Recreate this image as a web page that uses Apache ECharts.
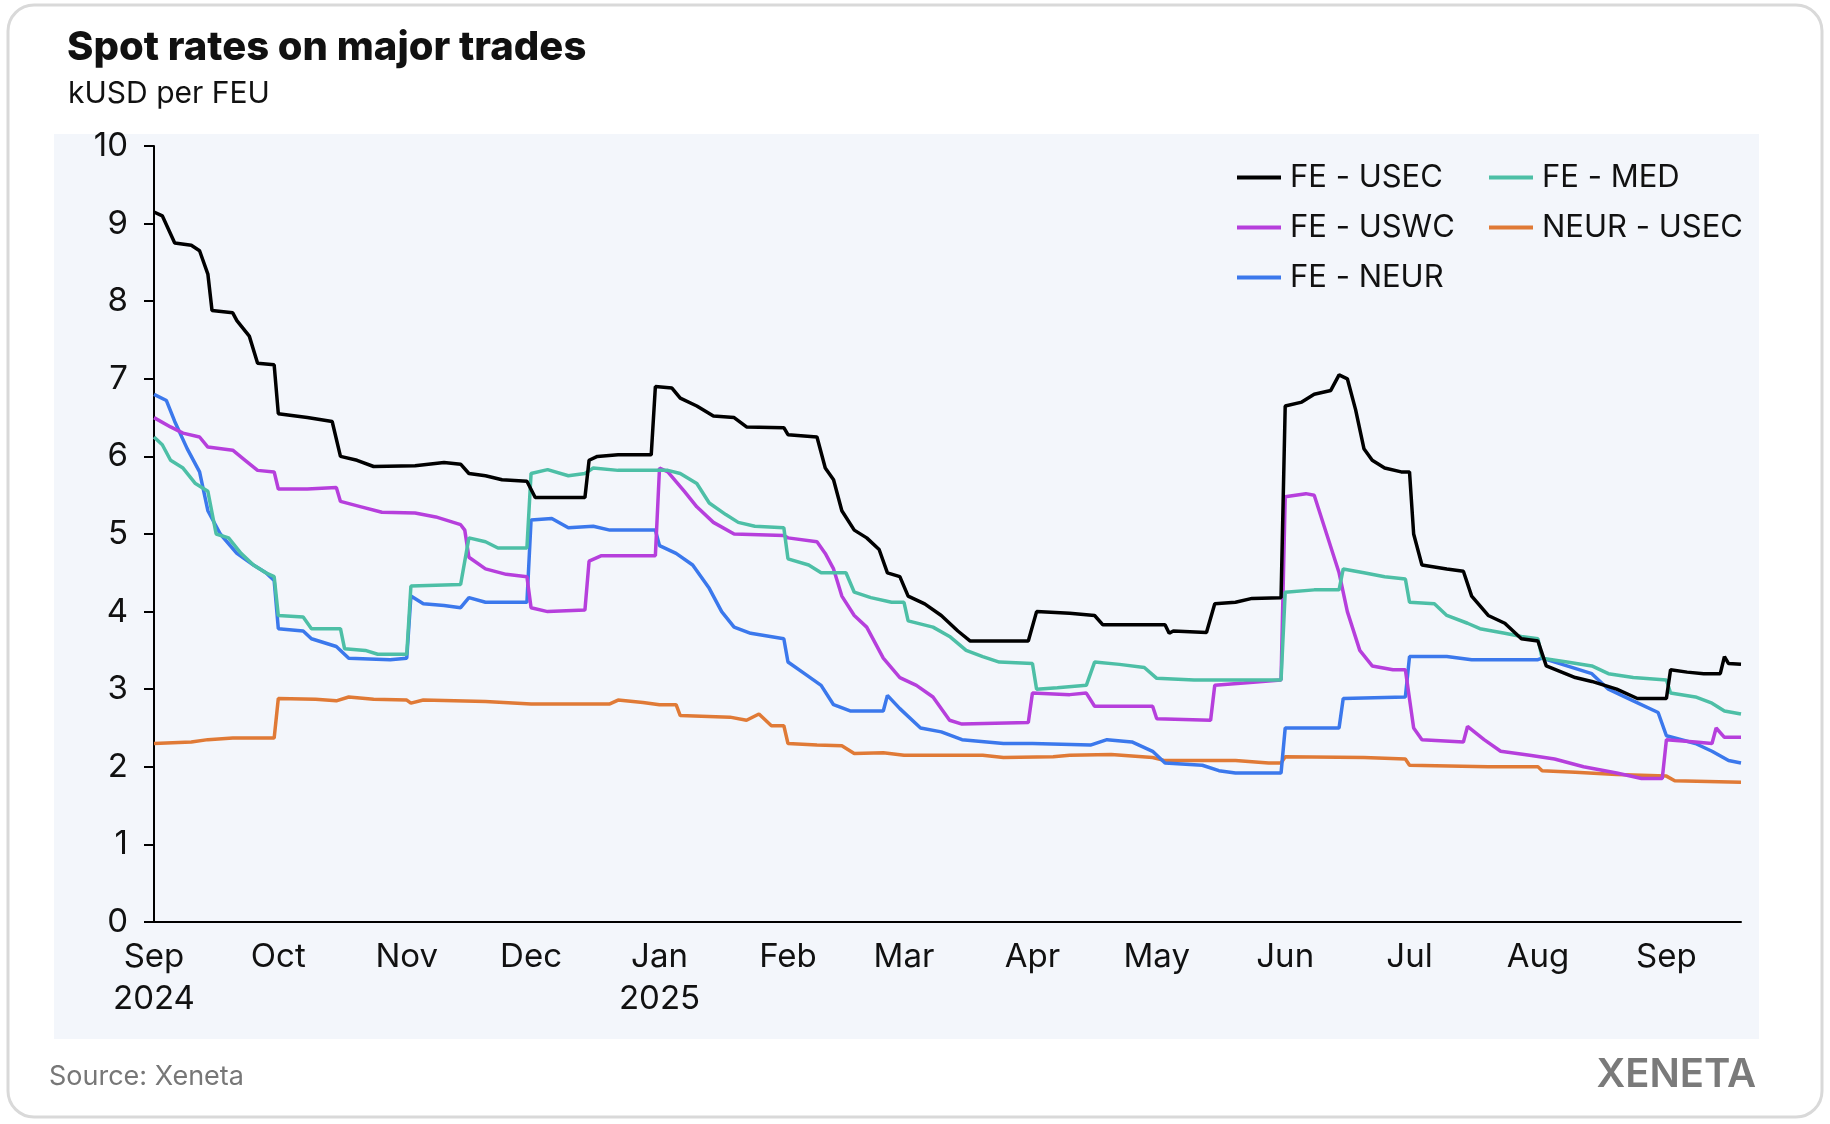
<!DOCTYPE html>
<html>
<head>
<meta charset="utf-8">
<script src="https://cdn.jsdelivr.net/npm/echarts@6/dist/echarts.min.js"></script>
<style>
  html, body { margin:0; padding:0; background:#fff; }
  #chart { width:1830px; height:1124px; }
</style>
</head>
<body>
<div id="chart"></div>
<script>
// values in kUSD per FEU
const feUsec = [['2024-09-01',9.15],['2024-09-03',9.1],['2024-09-06',8.75],['2024-09-10',8.72],['2024-09-12',8.65],['2024-09-14',8.35],['2024-09-15',7.88],['2024-09-20',7.85],['2024-09-21',7.75],['2024-09-24',7.55],['2024-09-26',7.2],['2024-09-30',7.18],['2024-10-01',6.55],['2024-10-08',6.5],['2024-10-14',6.45],['2024-10-16',6.0],['2024-10-20',5.95],['2024-10-24',5.87],['2024-11-03',5.88],['2024-11-10',5.92],['2024-11-14',5.9],['2024-11-16',5.78],['2024-11-20',5.75],['2024-11-24',5.7],['2024-11-30',5.68],['2024-12-02',5.47],['2024-12-14',5.47],['2024-12-15',5.95],['2024-12-17',6.0],['2024-12-22',6.02],['2024-12-30',6.02],['2024-12-31',6.9],['2025-01-04',6.88],['2025-01-06',6.75],['2025-01-10',6.65],['2025-01-14',6.52],['2025-01-19',6.5],['2025-01-22',6.38],['2025-01-31',6.37],['2025-02-01',6.28],['2025-02-08',6.25],['2025-02-10',5.85],['2025-02-12',5.7],['2025-02-14',5.3],['2025-02-17',5.05],['2025-02-20',4.95],['2025-02-23',4.8],['2025-02-25',4.5],['2025-02-28',4.45],['2025-03-02',4.2],['2025-03-06',4.1],['2025-03-10',3.95],['2025-03-14',3.75],['2025-03-17',3.62],['2025-03-31',3.62],['2025-04-02',4.0],['2025-04-10',3.98],['2025-04-16',3.95],['2025-04-18',3.83],['2025-05-03',3.83],['2025-05-04',3.72],['2025-05-05',3.75],['2025-05-13',3.73],['2025-05-15',4.1],['2025-05-20',4.12],['2025-05-24',4.17],['2025-05-31',4.18],['2025-06-01',6.65],['2025-06-05',6.7],['2025-06-08',6.8],['2025-06-12',6.85],['2025-06-14',7.05],['2025-06-16',7.0],['2025-06-18',6.6],['2025-06-20',6.1],['2025-06-22',5.95],['2025-06-25',5.85],['2025-06-29',5.8],['2025-07-01',5.8],['2025-07-02',5.0],['2025-07-04',4.6],['2025-07-10',4.55],['2025-07-14',4.52],['2025-07-16',4.2],['2025-07-20',3.95],['2025-07-24',3.85],['2025-07-28',3.65],['2025-08-01',3.62],['2025-08-03',3.3],['2025-08-10',3.15],['2025-08-14',3.1],['2025-08-20',3.0],['2025-08-25',2.88],['2025-09-01',2.88],['2025-09-02',3.25],['2025-09-06',3.22],['2025-09-10',3.2],['2025-09-14',3.2],['2025-09-15',3.42],['2025-09-16',3.33],['2025-09-19',3.32]];

const feMed = [['2024-09-01',6.25],['2024-09-03',6.15],['2024-09-05',5.95],['2024-09-08',5.85],['2024-09-11',5.65],['2024-09-14',5.55],['2024-09-16',5.0],['2024-09-19',4.95],['2024-09-22',4.75],['2024-09-25',4.6],['2024-09-28',4.5],['2024-09-30',4.45],['2024-10-01',3.95],['2024-10-07',3.93],['2024-10-09',3.78],['2024-10-16',3.78],['2024-10-17',3.52],['2024-10-22',3.5],['2024-10-25',3.45],['2024-11-01',3.45],['2024-11-02',4.33],['2024-11-14',4.35],['2024-11-16',4.95],['2024-11-20',4.9],['2024-11-23',4.82],['2024-11-30',4.82],['2024-12-01',5.78],['2024-12-05',5.83],['2024-12-10',5.75],['2024-12-14',5.78],['2024-12-16',5.85],['2024-12-22',5.82],['2025-01-03',5.82],['2025-01-06',5.78],['2025-01-10',5.65],['2025-01-13',5.4],['2025-01-17',5.25],['2025-01-20',5.15],['2025-01-24',5.1],['2025-01-31',5.08],['2025-02-01',4.68],['2025-02-06',4.6],['2025-02-09',4.5],['2025-02-15',4.5],['2025-02-17',4.25],['2025-02-21',4.18],['2025-02-26',4.12],['2025-03-01',4.12],['2025-03-02',3.88],['2025-03-08',3.8],['2025-03-12',3.68],['2025-03-16',3.5],['2025-03-20',3.42],['2025-03-24',3.35],['2025-04-01',3.33],['2025-04-02',3.0],['2025-04-07',3.02],['2025-04-14',3.05],['2025-04-16',3.35],['2025-04-22',3.32],['2025-04-28',3.28],['2025-05-01',3.14],['2025-05-10',3.12],['2025-05-20',3.12],['2025-05-31',3.12],['2025-06-01',4.25],['2025-06-08',4.28],['2025-06-14',4.28],['2025-06-15',4.55],['2025-06-20',4.5],['2025-06-25',4.45],['2025-06-30',4.42],['2025-07-01',4.12],['2025-07-07',4.1],['2025-07-10',3.95],['2025-07-15',3.85],['2025-07-18',3.78],['2025-07-24',3.72],['2025-07-28',3.68],['2025-08-01',3.65],['2025-08-02',3.4],['2025-08-08',3.35],['2025-08-14',3.3],['2025-08-18',3.2],['2025-08-24',3.15],['2025-09-01',3.12],['2025-09-02',2.95],['2025-09-08',2.9],['2025-09-12',2.82],['2025-09-15',2.72],['2025-09-19',2.68]];

const feUswc = [['2024-09-01',6.5],['2024-09-05',6.38],['2024-09-08',6.3],['2024-09-12',6.25],['2024-09-14',6.12],['2024-09-20',6.08],['2024-09-23',5.95],['2024-09-26',5.82],['2024-09-30',5.8],['2024-10-01',5.58],['2024-10-08',5.58],['2024-10-15',5.6],['2024-10-16',5.42],['2024-10-21',5.35],['2024-10-26',5.28],['2024-11-03',5.27],['2024-11-08',5.22],['2024-11-14',5.12],['2024-11-15',5.05],['2024-11-16',4.7],['2024-11-20',4.55],['2024-11-25',4.48],['2024-11-30',4.45],['2024-12-01',4.05],['2024-12-05',4.0],['2024-12-14',4.02],['2024-12-15',4.65],['2024-12-18',4.72],['2024-12-31',4.72],['2025-01-01',5.85],['2025-01-03',5.8],['2025-01-07',5.55],['2025-01-10',5.35],['2025-01-14',5.15],['2025-01-19',5.0],['2025-01-31',4.98],['2025-02-01',4.95],['2025-02-08',4.9],['2025-02-10',4.75],['2025-02-12',4.55],['2025-02-14',4.2],['2025-02-17',3.95],['2025-02-20',3.8],['2025-02-24',3.4],['2025-02-28',3.15],['2025-03-04',3.05],['2025-03-08',2.9],['2025-03-12',2.6],['2025-03-15',2.55],['2025-03-31',2.57],['2025-04-01',2.95],['2025-04-10',2.93],['2025-04-14',2.95],['2025-04-16',2.78],['2025-04-30',2.78],['2025-05-01',2.62],['2025-05-14',2.6],['2025-05-15',3.05],['2025-05-22',3.08],['2025-05-31',3.12],['2025-06-01',5.48],['2025-06-06',5.52],['2025-06-08',5.5],['2025-06-11',5.0],['2025-06-14',4.5],['2025-06-16',4.0],['2025-06-19',3.5],['2025-06-22',3.3],['2025-06-27',3.25],['2025-06-30',3.25],['2025-07-02',2.5],['2025-07-04',2.35],['2025-07-14',2.32],['2025-07-15',2.52],['2025-07-19',2.35],['2025-07-23',2.2],['2025-07-30',2.15],['2025-08-05',2.1],['2025-08-12',2.0],['2025-08-20',1.92],['2025-08-26',1.85],['2025-08-31',1.85],['2025-09-01',2.35],['2025-09-08',2.32],['2025-09-12',2.3],['2025-09-13',2.5],['2025-09-15',2.38],['2025-09-19',2.38]];

const feNeur = [['2024-09-01',6.8],['2024-09-04',6.72],['2024-09-06',6.45],['2024-09-09',6.1],['2024-09-12',5.8],['2024-09-14',5.3],['2024-09-17',5.0],['2024-09-21',4.75],['2024-09-25',4.6],['2024-09-28',4.5],['2024-09-30',4.4],['2024-10-01',3.78],['2024-10-07',3.75],['2024-10-09',3.65],['2024-10-15',3.55],['2024-10-18',3.4],['2024-10-28',3.38],['2024-11-01',3.4],['2024-11-02',4.2],['2024-11-05',4.1],['2024-11-10',4.08],['2024-11-14',4.05],['2024-11-16',4.18],['2024-11-20',4.12],['2024-11-30',4.12],['2024-12-01',5.18],['2024-12-06',5.2],['2024-12-10',5.08],['2024-12-16',5.1],['2024-12-20',5.05],['2024-12-31',5.05],['2025-01-01',4.85],['2025-01-05',4.75],['2025-01-09',4.6],['2025-01-13',4.3],['2025-01-16',4.0],['2025-01-19',3.8],['2025-01-23',3.72],['2025-01-31',3.65],['2025-02-01',3.35],['2025-02-05',3.2],['2025-02-09',3.05],['2025-02-12',2.8],['2025-02-16',2.72],['2025-02-24',2.72],['2025-02-25',2.92],['2025-02-28',2.75],['2025-03-05',2.5],['2025-03-10',2.45],['2025-03-15',2.35],['2025-03-25',2.3],['2025-04-01',2.3],['2025-04-15',2.28],['2025-04-19',2.35],['2025-04-25',2.32],['2025-04-30',2.2],['2025-05-03',2.05],['2025-05-12',2.02],['2025-05-16',1.95],['2025-05-20',1.92],['2025-05-31',1.92],['2025-06-01',2.5],['2025-06-14',2.5],['2025-06-15',2.88],['2025-06-30',2.9],['2025-07-01',3.42],['2025-07-10',3.42],['2025-07-16',3.38],['2025-08-01',3.38],['2025-08-02',3.4],['2025-08-08',3.3],['2025-08-14',3.2],['2025-08-18',3.0],['2025-08-24',2.85],['2025-08-30',2.7],['2025-09-01',2.4],['2025-09-08',2.3],['2025-09-12',2.2],['2025-09-16',2.08],['2025-09-19',2.05]];

const neurUsec = [['2024-09-01',2.3],['2024-09-10',2.32],['2024-09-14',2.35],['2024-09-20',2.37],['2024-09-30',2.37],['2024-10-01',2.88],['2024-10-10',2.87],['2024-10-15',2.85],['2024-10-18',2.9],['2024-10-24',2.87],['2024-11-01',2.86],['2024-11-02',2.82],['2024-11-05',2.86],['2024-11-20',2.84],['2024-12-01',2.81],['2024-12-20',2.81],['2024-12-22',2.86],['2024-12-28',2.83],['2025-01-01',2.8],['2025-01-05',2.8],['2025-01-06',2.66],['2025-01-18',2.64],['2025-01-22',2.6],['2025-01-25',2.68],['2025-01-28',2.53],['2025-01-31',2.53],['2025-02-01',2.3],['2025-02-08',2.28],['2025-02-14',2.27],['2025-02-17',2.17],['2025-02-24',2.18],['2025-03-01',2.15],['2025-03-20',2.15],['2025-03-25',2.12],['2025-04-06',2.13],['2025-04-10',2.15],['2025-04-20',2.16],['2025-04-30',2.12],['2025-05-03',2.08],['2025-05-20',2.08],['2025-05-28',2.05],['2025-05-31',2.05],['2025-06-01',2.13],['2025-06-20',2.12],['2025-06-30',2.1],['2025-07-01',2.02],['2025-07-20',2.0],['2025-08-01',2.0],['2025-08-02',1.95],['2025-08-10',1.93],['2025-08-20',1.9],['2025-09-01',1.88],['2025-09-03',1.82],['2025-09-19',1.8]];

const seriesNames = ['FE - USEC', 'FE - MED', 'FE - USWC', 'NEUR - USEC', 'FE - NEUR'];
const seriesColors = ['#000000', '#4dbfa6', '#b63fdc', '#e07a36', '#3b78ec'];
const seriesData = [feUsec, feMed, feUswc, neurUsec, feNeur];
const yTicks = [0, 1, 2, 3, 4, 5, 6, 7, 8, 9, 10];

const MONTHS = ['Jan','Feb','Mar','Apr','May','Jun','Jul','Aug','Sep','Oct','Nov','Dec'];
const FONT = 'Inter, "Noto Sans", sans-serif';

const chart = echarts.init(document.getElementById('chart'));
// draw order: orange and blue underneath, black on top
const drawOrder = [3, 4, 2, 1, 0];
const legendText = { fontSize:31, fontFamily:FONT, color:'#111', padding:[0, 0, 0, 4] };
chart.setOption({
  animation: false,
  graphic: [
    { type:'rect', shape:{ x:8, y:5, width:1814, height:1112, r:26 }, style:{ fill:'#fff', stroke:'#d9d9d9', lineWidth:3 }, z:-10 },
    { type:'rect', shape:{ x:54, y:134, width:1705, height:905 }, style:{ fill:'#f3f6fb' }, z:-9 },
    { type:'text', left:67, top:28, style:{ text:'Spot rates on major trades', font:'800 40px ' + FONT, fill:'#111' } },
    { type:'text', left:68, top:79, style:{ text:'kUSD per FEU', font:'400 30px ' + FONT, fill:'#111' } },
    { type:'text', left:49, top:1063, style:{ text:'Source: Xeneta', font:'400 27px ' + FONT, fill:'#777' } },
    { type:'text', right:74, top:1055, style:{ text:'XENETA', font:'600 40px ' + FONT, fill:'#7a7a7a', letterSpacing:3 } }
  ],
  legend: [
    { data:['FE - USEC','FE - USWC','FE - NEUR'], orient:'vertical', left:1232, top:157, itemGap:19,
      itemWidth:44, itemHeight:4, icon:'rect', textStyle:legendText },
    { data:['FE - MED','NEUR - USEC'], orient:'vertical', left:1484, top:157, itemGap:19,
      itemWidth:44, itemHeight:4, icon:'rect', textStyle:legendText }
  ],
  grid: { left:154, right:89, top:146, bottom:202 },
  xAxis: {
    type:'time',
    min:'2024-09-01', max:'2025-09-19',
    minInterval: 28 * 86400000, maxInterval: 31 * 86400000,
    axisLine:{ lineStyle:{ color:'#000', width:2 } },
    axisTick:{ show:false },
    splitLine:{ show:false },
    axisLabel:{
      fontSize:33, fontFamily:FONT, color:'#111', margin:14, lineHeight:42, hideOverlap:false,
      formatter: function (v) {
        const d = new Date(v);
        const m = d.getMonth();
        if (d.getDate() !== 1) return '';
        if ((m === 8 && d.getFullYear() === 2024) || m === 0) return MONTHS[m] + '\n' + d.getFullYear();
        return MONTHS[m];
      }
    }
  },
  yAxis: {
    type:'value', min:yTicks[0], max:yTicks[yTicks.length - 1], interval:1,
    axisLine:{ show:true, lineStyle:{ color:'#000', width:2 } },
    axisTick:{ show:true, length:10, lineStyle:{ color:'#000', width:2 } },
    splitLine:{ show:false },
    axisLabel:{ fontSize:33, fontFamily:FONT, color:'#111', margin:26 }
  },
  series: drawOrder.map(i => ({
    name: seriesNames[i], type:'line', data: seriesData[i], showSymbol:false,
    color: seriesColors[i], lineStyle:{ width:3.5, color: seriesColors[i] }, z: 2 + drawOrder.indexOf(i)
  }))
});
</script>
</body>
</html>
